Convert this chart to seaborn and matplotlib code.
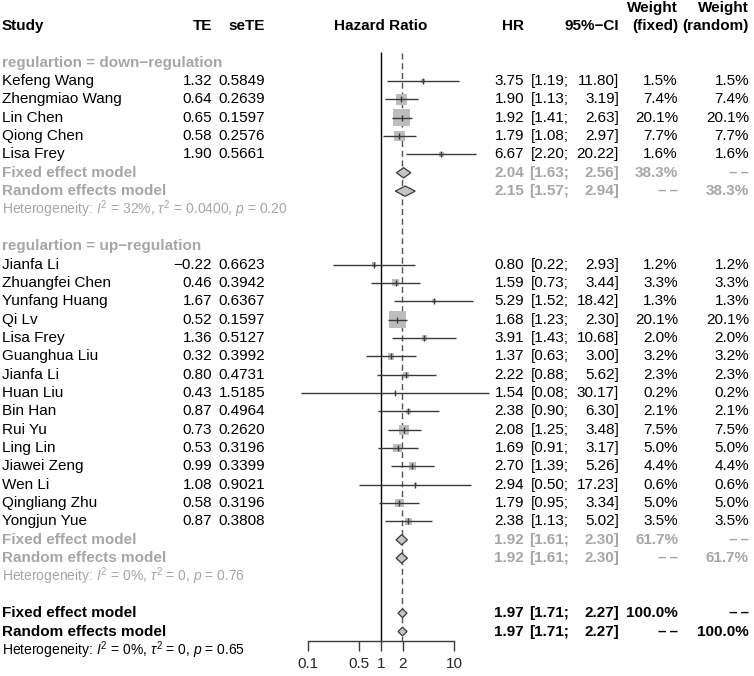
import numpy as np
import pandas as pd
import matplotlib
matplotlib.use("Agg")
import matplotlib.pyplot as plt
import matplotlib.transforms as mtransforms
import seaborn as sns

sns.set_theme(style="white")
plt.rcParams["font.family"] = ["Liberation Sans", "DejaVu Sans"]
plt.rcParams["mathtext.fontset"] = "custom"
plt.rcParams["mathtext.rm"] = "Liberation Sans"
plt.rcParams["mathtext.it"] = "Liberation Sans:italic"
plt.rcParams["mathtext.bf"] = "Liberation Sans:bold"

# down-regulation group
down_study = ["Kefeng Wang", "Zhengmiao Wang", "Lin Chen", "Qiong Chen", "Lisa Frey"]
down_te = [1.32, 0.64, 0.65, 0.58, 1.90]
down_se = [0.5849, 0.2639, 0.1597, 0.2576, 0.5661]
down_hr = [3.75, 1.90, 1.92, 1.79, 6.67]
down_lo = [1.19, 1.13, 1.41, 1.08, 2.20]
down_hi = [11.80, 3.19, 2.63, 2.97, 20.22]
down_w = [1.5, 7.4, 20.1, 7.7, 1.6]

# up-regulation group
up_study = ["Jianfa Li", "Zhuangfei Chen", "Yunfang Huang", "Qi Lv", "Lisa Frey",
            "Guanghua Liu", "Jianfa Li", "Huan Liu", "Bin Han", "Rui Yu", "Ling Lin",
            "Jiawei Zeng", "Wen Li", "Qingliang Zhu", "Yongjun Yue"]
up_te = [-0.22, 0.46, 1.67, 0.52, 1.36, 0.32, 0.80, 0.43, 0.87, 0.73, 0.53, 0.99, 1.08, 0.58, 0.87]
up_se = [0.6623, 0.3942, 0.6367, 0.1597, 0.5127, 0.3992, 0.4731, 1.5185, 0.4964,
         0.2620, 0.3196, 0.3399, 0.9021, 0.3196, 0.3808]
up_hr = [0.80, 1.59, 5.29, 1.68, 3.91, 1.37, 2.22, 1.54, 2.38, 2.08, 1.69, 2.70, 2.94, 1.79, 2.38]
up_lo = [0.22, 0.73, 1.52, 1.23, 1.43, 0.63, 0.88, 0.08, 0.90, 1.25, 0.91, 1.39, 0.50, 0.95, 1.13]
up_hi = [2.93, 3.44, 18.42, 2.30, 10.68, 3.00, 5.62, 30.17, 6.30, 3.48, 3.17, 5.26, 17.23, 3.34, 5.02]
up_w = [1.2, 3.3, 1.3, 20.1, 2.0, 3.2, 2.3, 0.2, 2.1, 7.5, 5.0, 4.4, 0.6, 5.0, 3.5]

NA = "\u2013\u2009\u2013"
# pooled estimates: label, hr, lo, hi, weight fixed, weight random
down_pooled = [("Fixed effect model", 2.04, 1.63, 2.56, "38.3%", NA),
               ("Random effects model", 2.15, 1.57, 2.94, NA, "38.3%")]
up_pooled = [("Fixed effect model", 1.92, 1.61, 2.30, "61.7%", NA),
             ("Random effects model", 1.92, 1.61, 2.30, NA, "61.7%")]
all_pooled = [("Fixed effect model", 1.97, 1.71, 2.27, "100.0%", NA),
              ("Random effects model", 1.97, 1.71, 2.27, NA, "100.0%")]

down_het = r"Heterogeneity: $I^2$ = 32%, $\tau^2$ = 0.0400, $p$ = 0.20"
up_het = r"Heterogeneity: $I^2$ = 0%, $\tau^2$ = 0, $p$ = 0.76"
all_het = r"Heterogeneity: $I^2$ = 0%, $\tau^2$ = 0, $p$ = 0.65"

x_ticks = [0.1, 0.5, 1, 2, 10]
x_ticklabels = ["0.1", "0.5", "1", "2", "10"]

GREY = "#a6a6a6"
DARK = "#3a3a3a"
W, H = 754, 676
ROW0, ROWH = 26, 18.35

# row layout
down_rows = list(range(3, 3 + len(down_study)))
up_rows = list(range(13, 13 + len(up_study)))
studies = pd.DataFrame({
    "study": down_study + up_study,
    "te": down_te + up_te,
    "se": down_se + up_se,
    "hr": down_hr + up_hr,
    "lo": down_lo + up_lo,
    "hi": down_hi + up_hi,
    "w": down_w + up_w,
    "row": down_rows + up_rows,
})

fig = plt.figure(figsize=(W / 100, H / 100), dpi=100)
ax = fig.add_axes([308 / W, 0, (454 - 308) / W, 1])

# reference lines
ax.vlines(1, 1.4, 33.5, color="black", lw=1.0)
ax.vlines(all_pooled[0][1], 1.45, 33.5, color="#555555", lw=1.0, linestyles=(0, (4, 3)))
ax.vlines(all_pooled[1][1], 1.45, 33.5, color="#555555", lw=1.0, linestyles=(3.5, (0.8, 6.2)))

# study squares, CIs and point ticks
sns.scatterplot(data=studies, x="hr", y="row", size="w", size_norm=(0, 20.1),
                sizes=(0, 150), marker="s", color="#bdbdbd", edgecolor="none",
                legend=False, ax=ax, zorder=2)
ax.hlines(studies["row"], studies["lo"], studies["hi"], color=DARK, lw=1.0,
          zorder=3, clip_on=False)
ax.scatter(studies["hr"], studies["row"], marker="|", s=14, color=DARK,
           linewidths=1.0, zorder=4)

ax.set_xscale("log")
ax.set_xlim(0.1, 10)
ax.set_ylim((H - ROW0) / ROWH, -ROW0 / ROWH)
ax.set_xlabel("")
ax.set_ylabel("")
ax.set_facecolor("none")
for s in ["top", "left", "right"]:
    ax.spines[s].set_visible(False)
ax.spines["bottom"].set_position(("data", 33.5))
ax.spines["bottom"].set_bounds(0.1, 10)
ax.spines["bottom"].set_color(DARK)
ax.spines["bottom"].set_linewidth(1.0)
ax.set_xticks(x_ticks)
ax.set_xticklabels(x_ticklabels)
ax.minorticks_off()
ax.tick_params(axis="x", direction="out", length=7, width=1.0, color=DARK,
               pad=4.5, labelsize=11, bottom=True)
ax.tick_params(axis="y", left=False, labelleft=False)
ax.grid(False)


def diamond(row, hr, lo, hi, half=0.28):
    ax.fill([lo, hr, hi, hr], [row, row - half, row, row + half],
            facecolor="#c4c4c4", edgecolor=DARK, lw=0.9, zorder=4)


tf = mtransforms.blended_transform_factory(fig.transFigure, ax.transData)


def txt(px, row, s, ha="left", color="black", weight="normal", size=11):
    ax.text(px / W, row, s, transform=tf, ha=ha, va="center", color=color,
            fontweight=weight, fontsize=size, clip_on=False)


def ci_text(row, lo, hi, color="black", weight="normal"):
    txt(569, row, f"[{lo:.2f};", ha="right", color=color, weight=weight)
    txt(619, row, f"{hi:.2f}]", ha="right", color=color, weight=weight)


# header
for px, s, ha in [(2, "Study", "left"), (212, "TE", "right"), (265, "seTE", "right"),
                  (381, "Hazard Ratio", "center"), (524, "HR", "right"),
                  (619, "95%−CI", "right"), (678, "(fixed)", "right"),
                  (749, "(random)", "right")]:
    txt(px, 0, s, ha=ha, weight="bold")
txt(678, -1, "Weight", ha="right", weight="bold")
txt(749, -1, "Weight", ha="right", weight="bold")

# study rows
for _, r in studies.iterrows():
    txt(2, r["row"], r["study"])
    txt(212, r["row"], f"{r['te']:.2f}".replace("-", "−"), ha="right")
    txt(265, r["row"], f"{r['se']:.4f}", ha="right")
    txt(524, r["row"], f"{r['hr']:.2f}", ha="right")
    ci_text(r["row"], r["lo"], r["hi"])
    txt(678, r["row"], f"{r['w']:.1f}%", ha="right")
    txt(749, r["row"], f"{r['w']:.1f}%", ha="right")


def pooled_block(rows, pooled, color, het, het_row, half):
    for row, (lab, hr, lo, hi, wf, wr) in zip(rows, pooled):
        txt(2, row, lab, color=color, weight="bold")
        txt(524, row, f"{hr:.2f}", ha="right", color=color, weight="bold")
        ci_text(row, lo, hi, color=color, weight="bold")
        txt(678, row, wf, ha="right", color=color, weight="bold")
        txt(749, row, wr, ha="right", color=color, weight="bold")
        diamond(row, hr, lo, hi, half)
    txt(2, het_row, het, color=color, size=10)


txt(2, 2, "regulartion = down−regulation", color=GREY, weight="bold")
pooled_block([8, 9], down_pooled, GREY, down_het, 10, 0.28)
txt(2, 12, "regulartion = up−regulation", color=GREY, weight="bold")
pooled_block([28, 29], up_pooled, GREY, up_het, 30, 0.28)
pooled_block([32, 33], all_pooled, "black", all_het, 34, 0.24)

fig.savefig("out.png", dpi=100)
